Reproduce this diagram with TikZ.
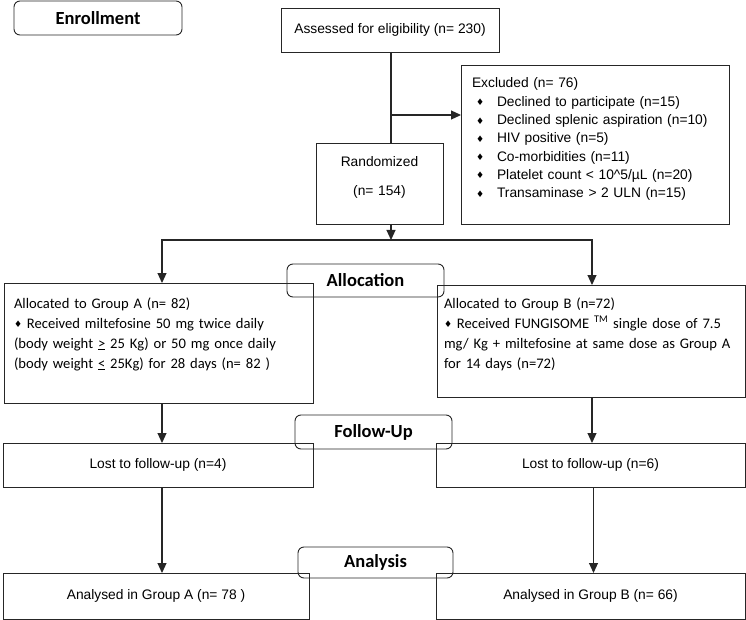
\documentclass[tikz,border=0pt]{standalone}
\usepackage{fontspec}
\setmainfont{Liberation Sans}
\newfontfamily\calibri{Carlito}
\newfontfamily\dejavu{DejaVu Sans}
\usetikzlibrary{arrows.meta}
\newcommand{\dia}{\raisebox{0.5pt}{\dejavu\fontsize{9}{9}\selectfont ♦}}
\newcommand{\exitem}[1]{\makebox[25pt][l]{\hspace{4pt}\dia}#1}
\begin{document}
\begin{tikzpicture}[x=1pt, y=-1pt,
  box/.style={draw=black!85, line width=0.9pt, rectangle, inner sep=0pt, outer sep=0pt, font=\fontsize{13.8}{18.3}\selectfont},
  grpbox/.style={box, anchor=north west, align=left, font=\calibri\fontsize{14.6}{20}\selectfont},
  phase/.style={draw=black!85, line width=0.9pt, rounded corners=6pt, inner sep=0pt, outer sep=0pt, font=\calibri\bfseries\fontsize{18.5}{22}\selectfont},
  link/.style={draw=black!85, line width=1.1pt},
  arrow/.style={link, -{Triangle[length=10pt, width=9pt]}}]
\useasboundingbox (0,0) rectangle (746,620);
% phases
\node[phase, minimum width=168pt, minimum height=34pt] (enroll) at (98,18) {Enrollment};
\node[phase, minimum width=157pt, minimum height=33pt] (alloc) at (365.5,280.5) {Allocation};
\node[phase, minimum width=157pt, minimum height=34pt] (follow) at (373.5,432) {Follow-Up};
\node[phase, minimum width=155pt, minimum height=31pt] (analysis) at (375.5,562.5) {Analysis};
% enrollment
\node[box, minimum width=218pt, minimum height=44pt] (assess) at (390,30) {Assessed for eligibility (n= 230)};
\node[box, anchor=north, align=center, text width=127pt, text height=24pt, text depth=57pt] (rand) at (379.5,143) {Randomized\\[10pt](n= 154)};
\node[box, anchor=north west, align=left, text width=246pt, inner xsep=11pt, text height=23pt, text depth=136pt] (excl) at (461,65) {Excluded (n= 76)\\
  \exitem{Declined to participate (n=15)}\\
  \exitem{Declined splenic aspiration (n=10)}\\
  \exitem{HIV positive (n=5)}\\
  \exitem{Co-morbidities (n=11)}\\
  \exitem{Platelet count < 10\^{}5/µL (n=20)}\\
  \exitem{Transaminase > 2 ULN (n=15)}};
% allocation
\node[grpbox, text width=289pt, inner xsep=10pt, text height=25pt, text depth=95pt] (grpA) at (4,283) {Allocated to Group A (n= 82)\\
  \dia\ Received miltefosine 50 mg twice daily\\
  (body weight \underline{>} 25 Kg) or 50 mg once daily\\
  (body weight \underline{<} 25Kg) for 28 days (n= 82 )};
\node[grpbox, text width=294pt, inner xsep=7pt, text height=23pt, text depth=89pt] (grpB) at (437,285) {Allocated to Group B (n=72)\\
  \dia\ Received FUNGISOME \textsuperscript{TM}\ single dose of 7.5\\
  mg/ Kg + miltefosine at same dose as Group A\\
  for 14 days (n=72)};
% follow-up and analysis
\node[box, minimum width=310pt, minimum height=44pt] (lostA) at (158,465) {Lost to follow-up (n=4)};
\node[box, minimum width=309pt, minimum height=44pt] (lostB) at (590.5,465) {Lost to follow-up (n=6)};
\node[box, minimum width=306pt, minimum height=46pt] (anaA) at (156,596) {Analysed in Group A (n= 78 )};
\node[box, minimum width=309pt, minimum height=46pt] (anaB) at (590.5,596) {Analysed in Group B (n= 66)};
% connectors
\coordinate (split) at (391,115);
\coordinate (fork) at (391,240);
\draw[link] (assess.south -| fork) -- (rand.north -| fork);
\draw[arrow] (split) -- (split -| excl.west);
\draw[arrow] (rand.south -| fork) -- (fork);
\draw[arrow] (fork) -| ([xshift=3.5pt]grpA.north);
\draw[arrow] (fork) -| ([xshift=1pt]grpB.north);
\draw[arrow] ([xshift=3.5pt]grpA.south) -- ([xshift=3.5pt]grpA.south |- lostA.north);
\draw[arrow] ([xshift=1pt]grpB.south) -- ([xshift=1pt]grpB.south |- lostB.north);
\draw[arrow] ([xshift=4pt]lostA.south) -- ([xshift=4pt]lostA.south |- anaA.north);
\draw[arrow] ([xshift=3pt]lostB.south) -- ([xshift=3pt]lostB.south |- anaB.north);
\end{tikzpicture}
\end{document}
